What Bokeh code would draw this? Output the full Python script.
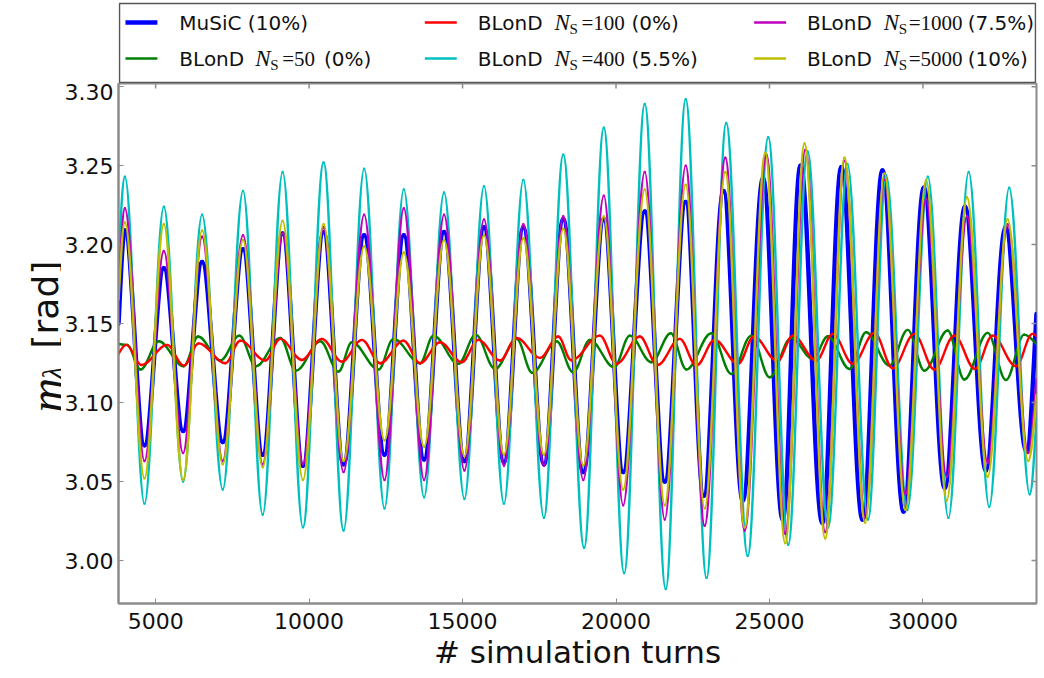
import numpy as np
from bokeh.plotting import figure
from bokeh.models import Range1d, FixedTicker, PrintfTickFormatter
from bokeh.layouts import column, row
from bokeh.embed import file_html
from bokeh.resources import INLINE
from bokeh.core.properties import value

# ---------------- data ----------------
x_ticks = [5000, 10000, 15000, 20000, 25000, 30000]
y_ticks = [3.00, 3.05, 3.10, 3.15, 3.20, 3.25, 3.30]
x_limits = [3790, 33700]
y_limits = [2.9728, 3.302]
edge_turns = [3790, 33700]   # where the axes cut the curves

# MuSiC (10%)
music_peak_turns = [3998, 5267, 6513, 7847, 9138, 10472, 11794, 13085, 14397, 15698, 16980, 18281,
                    19602, 20936, 22270, 23500, 24790, 26010, 27340, 28680, 30030, 31370, 32690]
music_trough_turns = [4636, 5895, 7186, 8488, 9799, 11123, 12457, 13746, 15060, 16349, 17650, 18932,
                      20233, 21587, 22858, 24130, 25430, 26720, 28030, 29370, 30710, 32050, 33370]
music_peaks = [3.209, 3.185, 3.189, 3.197, 3.207, 3.208, 3.206, 3.206, 3.208, 3.211, 3.211, 3.216,
               3.216, 3.221, 3.227, 3.234, 3.242, 3.250, 3.249, 3.247, 3.236, 3.224, 3.211]
music_troughs = [3.073, 3.082, 3.075, 3.067, 3.060, 3.061, 3.067, 3.064, 3.063, 3.062, 3.061, 3.056,
                 3.056, 3.050, 3.041, 3.038, 3.026, 3.024, 3.026, 3.031, 3.046, 3.057, 3.069]
music_edges = [3.150, 3.156]

# BLonD N_S = 400 (5.5%)
n400_peak_turns = [3998, 5267, 6513, 7847, 9138, 10472, 11794, 13085, 14397, 15698, 16980, 18281,
                   19602, 20936, 22270, 23590, 24960, 26240, 27540, 28800, 30160, 31490, 32810]
n400_trough_turns = [4636, 5895, 7186, 8488, 9799, 11123, 12457, 13746, 15060, 16349, 17650, 18960,
                     20265, 21620, 22950, 24290, 25610, 26910, 28210, 29490, 30830, 32160, 33480]
n400_peaks = [3.243, 3.224, 3.219, 3.234, 3.246, 3.252, 3.248, 3.235, 3.233, 3.237, 3.241, 3.257,
              3.274, 3.289, 3.292, 3.277, 3.268, 3.259, 3.251, 3.244, 3.243, 3.246, 3.236]
n400_troughs = [3.036, 3.050, 3.045, 3.029, 3.021, 3.019, 3.033, 3.040, 3.039, 3.036, 3.027, 3.008,
                2.992, 2.982, 2.989, 3.003, 3.010, 3.021, 3.026, 3.032, 3.027, 3.034, 3.042]
n400_edges = [3.190, 3.090]

# BLonD N_S = 1000 (7.5%)
n1000_peak_turns = [3998, 5267, 6513, 7847, 9138, 10472, 11794, 13085, 14397, 15698, 16980, 18281,
                    19602, 20936, 22270, 23562, 24900, 26170, 27444, 28745, 30102, 31436, 32760]
n1000_trough_turns = [4636, 5895, 7186, 8488, 9799, 11123, 12457, 13746, 15060, 16349, 17650, 18932,
                      20233, 21587, 22888, 24190, 25514, 26816, 28117, 29429, 30775, 32109, 33430]
n1000_peaks = [3.223, 3.196, 3.205, 3.206, 3.207, 3.211, 3.219, 3.223, 3.219, 3.216, 3.213, 3.218,
               3.231, 3.246, 3.250, 3.255, 3.257, 3.260, 3.253, 3.241, 3.229, 3.218, 3.213]
n1000_troughs = [3.063, 3.068, 3.063, 3.061, 3.061, 3.056, 3.051, 3.051, 3.057, 3.060, 3.060, 3.051,
                 3.035, 3.026, 3.022, 3.019, 3.017, 3.018, 3.027, 3.042, 3.053, 3.062, 3.068]
n1000_edges = [3.170, 3.115]

# BLonD N_S = 5000 (10%)
n5000_peak_turns = [3998, 5267, 6513, 7847, 9138, 10472, 11794, 13085, 14397, 15698, 16980, 18281,
                    19602, 20936, 22270, 23562, 24863, 26142, 27444, 28745, 30102, 31436, 32760]
n5000_trough_turns = [4636, 5895, 7186, 8488, 9799, 11123, 12457, 13746, 15060, 16349, 17650, 18932,
                      20233, 21587, 22888, 24190, 25514, 26816, 28117, 29429, 30775, 32109, 33430]
n5000_peaks = [3.214, 3.213, 3.209, 3.203, 3.215, 3.213, 3.199, 3.195, 3.203, 3.206, 3.204, 3.210,
               3.218, 3.235, 3.238, 3.246, 3.258, 3.264, 3.255, 3.245, 3.241, 3.230, 3.216]
n5000_troughs = [3.052, 3.051, 3.061, 3.059, 3.051, 3.063, 3.076, 3.072, 3.066, 3.067, 3.067, 3.060,
                 3.045, 3.035, 3.033, 3.021, 3.011, 3.014, 3.024, 3.032, 3.038, 3.053, 3.063]
n5000_edges = [3.165, 3.105]

# BLonD N_S = 100 (0%)  -- successive turning points
n100_turns = [3790, 4040, 4540, 5374, 5916, 6404, 7272, 7760, 8573, 9061, 9766, 10417, 11068, 11718,
              12315, 13074, 13616, 14267, 14972, 15514, 16219, 16761, 17521, 18117, 18540, 19473,
              20015, 20774, 21349, 22076, 22618, 23214, 23974, 24494, 25253, 25763, 26522, 27064,
              27715, 28420, 29016, 29721, 30372, 31023, 31695, 32270, 33029, 33571, 33700]
n100_vals = [3.1308, 3.1365, 3.1238, 3.1365, 3.1234, 3.1375, 3.1249, 3.1392, 3.1266, 3.1403, 3.1270,
             3.1403, 3.1259, 3.1397, 3.1249, 3.1392, 3.1249, 3.1382, 3.1255, 3.1397, 3.1266, 3.1409,
             3.1283, 3.1418, 3.1268, 3.1424, 3.1245, 3.1418, 3.1238, 3.1403, 3.1234, 3.1397, 3.1245,
             3.1418, 3.1262, 3.1424, 3.1266, 3.1435, 3.1245, 3.1441, 3.1217, 3.1435, 3.1209, 3.1424,
             3.1213, 3.1424, 3.1230, 3.1435, 3.1420]

# BLonD N_S = 50 (0%)  -- successive turning points
n50_turns = [3790, 4073, 4507, 5103, 5916, 6383, 7109, 7727, 8270, 9061, 9571, 10363, 10959, 11393,
             12261, 12749, 13616, 14050, 14864, 15427, 16057, 16761, 17271, 18063, 18605, 19147,
             19939, 20450, 21154, 21783, 22293, 23106, 23757, 24407, 25004, 25709, 26414, 26902,
             27607, 28149, 28908, 29504, 30047, 30806, 31348, 32107, 32704, 33300, 33700]
n50_vals = [3.1371, 3.1365, 3.1209, 3.1388, 3.1230, 3.1418, 3.1266, 3.1424, 3.1230, 3.1409, 3.1202,
            3.1388, 3.1196, 3.1382, 3.1209, 3.1403, 3.1249, 3.1424, 3.1245, 3.1430, 3.1213, 3.1403,
            3.1188, 3.1388, 3.1192, 3.1397, 3.1224, 3.1424, 3.1255, 3.1439, 3.1209, 3.1439, 3.1181,
            3.1424, 3.1160, 3.1409, 3.1276, 3.1420, 3.1213, 3.1445, 3.1234, 3.1460, 3.1202, 3.1456,
            3.1146, 3.1441, 3.1143, 3.1430, 3.1370]

series_labels = ["MuSiC (10%)", "BLonD N_S=50 (0%)", "BLonD N_S=100 (0%)",
                 "BLonD N_S=400 (5.5%)", "BLonD N_S=1000 (7.5%)", "BLonD N_S=5000 (10%)"]
series_colors = ["#0000ff", "#007f00", "#ff0000", "#00bfbf", "#bf00bf", "#bfbf00"]


# ---------------- helpers ----------------
def chain(pt, pv, tt, tv, edges):
    xs, ys = [edge_turns[0]], [edges[0]]
    for a, b, c, d in zip(pt, pv, tt, tv):
        xs += [a, c]
        ys += [b, d]
    xs.append(edge_turns[1]); ys.append(edges[1])
    return xs, ys


def bez(xs, ys, k=0.3642):
    """Smooth curve through successive turning points (horizontal tangents)."""
    xs = np.asarray(xs, float); ys = np.asarray(ys, float)
    assert len(xs) == len(ys)
    x0, x1, y0, y1 = xs[:-1], xs[1:], ys[:-1], ys[1:]
    dx = x1 - x0
    cy0 = y0.copy(); cy1 = y1.copy()
    cy0[0] = y0[0] + 0.5 * (y1[0] - y0[0])
    cy1[-1] = y1[-1] - 0.5 * (y1[-1] - y0[-1])
    return dict(x0=x0, y0=y0, x1=x1, y1=y1, cx0=x0 + k * dx, cy0=cy0, cx1=x1 - k * dx, cy1=cy1)


curves = [
    chain(music_peak_turns, music_peaks, music_trough_turns, music_troughs, music_edges),
    (n50_turns, n50_vals),
    (n100_turns, n100_vals),
    chain(n400_peak_turns, n400_peaks, n400_trough_turns, n400_troughs, n400_edges),
    chain(n1000_peak_turns, n1000_peaks, n1000_trough_turns, n1000_troughs, n1000_edges),
    chain(n5000_peak_turns, n5000_peaks, n5000_trough_turns, n5000_troughs, n5000_edges),
]
widths = [4.5, 2.4, 2.4, 2.4, 2.4, 2.4]

FONT = "DejaVu Sans"
SPINE = "#8c8c8c"
INK = "#111111"

# page layout (the Bokeh page has no body margin)
W, H = 1044, 678
YL = 61                     # strip holding the y-axis title
LEG_H = 83
FL, FR = 116, 1036          # frame left / right (page px)
FT, FB = 83, 603            # frame top / bottom (page px)

# ---------------- main figure ----------------
p = figure(width=W - YL, height=H - LEG_H,
           x_range=Range1d(*x_limits), y_range=Range1d(*y_limits),
           output_backend="svg", toolbar_location=None,
           min_border_left=FL - YL, min_border_right=W - FR,
           min_border_top=FT - LEG_H, min_border_bottom=H - FB,
           background_fill_color="white", border_fill_color="white")
p.grid.visible = False
p.outline_line_color = SPINE
p.outline_line_width = 2

for (xs, ys), c, w in zip(curves, series_colors, widths):
    p.bezier(source=bez(xs, ys), x0="x0", y0="y0", x1="x1", y1="y1",
             cx0="cx0", cy0="cy0", cx1="cx1", cy1="cy1",
             line_color=c, line_width=w, line_cap="round")

p.xaxis.ticker = FixedTicker(ticks=x_ticks)
p.yaxis.ticker = FixedTicker(ticks=y_ticks)
p.yaxis.formatter = PrintfTickFormatter(format="%.2f")
for ax in (p.xaxis[0], p.yaxis[0]):
    ax.major_tick_in = 5
    ax.major_tick_out = 0
    ax.minor_tick_line_color = None
    ax.axis_line_color = SPINE
    ax.axis_line_width = 2
    ax.major_tick_line_color = SPINE
    ax.major_label_text_font = FONT
    ax.major_label_text_font_size = "22px"
    ax.major_label_text_color = INK
p.xaxis.major_label_standoff = 9
p.yaxis.major_label_standoff = 5
p.xaxis.axis_label = "# simulation turns"
p.xaxis.axis_label_text_font = FONT
p.xaxis.axis_label_text_font_style = "normal"
p.xaxis.axis_label_text_font_size = "31px"
p.xaxis.axis_label_text_color = INK
p.xaxis.axis_label_standoff = 2

# inward tick marks on the top and right spines (5 px long)
dy5 = 5 * (y_limits[1] - y_limits[0]) / (FB - FT)
dx5 = 5 * (x_limits[1] - x_limits[0]) / (FR - FL)
p.segment(x0=x_ticks, x1=x_ticks, y0=[y_limits[1]] * len(x_ticks), y1=[y_limits[1] - dy5] * len(x_ticks),
          line_color=SPINE, line_width=1.5)
p.segment(x0=[x_limits[1]] * len(y_ticks), x1=[x_limits[1] - dx5] * len(y_ticks), y0=y_ticks, y1=y_ticks,
          line_color=SPINE, line_width=1.5)

# ---------------- legend strip (coords = page pixels, y downward) ----------------
leg = figure(width=W - YL, height=LEG_H, x_range=Range1d(FL, FR), y_range=Range1d(LEG_H, 0),
             output_backend="svg", toolbar_location=None, x_axis_type=None, y_axis_type=None,
             min_border_left=FL - YL, min_border_right=W - FR, min_border_top=0, min_border_bottom=0,
             outline_line_color=None, background_fill_color="white", border_fill_color="white")
leg.quad(left=[FL + 1], right=[FR - 1], top=[3], bottom=[82], fill_color="white",
         line_color="#555555", line_width=1.5)

r1, r2 = 22, 58
cols = [123, 423, 753]
tx = [177, 476, 806]
slot_x = [cols[0], cols[0], cols[1], cols[1], cols[2], cols[2]]
slot_y = [r1, r2, r1, r2, r1, r2]
leg.segment(x0=slot_x, y0=slot_y, x1=[x + 32 for x in slot_x], y1=slot_y,
            line_color=series_colors, line_width=widths)

sans_txt = ["MuSiC (10%)", "BLonD", "BLonD", "BLonD", "BLonD", "BLonD",
            "(0%)", "(0%)", "(5.5%)", "(7.5%)", "(10%)"]
sans_x = [tx[0], tx[0], tx[1], tx[1], tx[2], tx[2], 322, 630, 630, 967, 967]
sans_y = [r1, r2, r1, r2, r1, r2, r2, r1, r2, r1, r2]
leg.text(x=sans_x, y=sans_y, text=sans_txt, text_font=value(FONT), text_font_size="20px",
         text_baseline="middle", text_align="left", text_color=INK)

n_x = [253, 553, 553, 883, 883]
n_y = [r2, r1, r2, r1, r2]
leg.text(x=n_x, y=n_y, text=["N"] * 5, text_font=value("Liberation Serif"), text_font_style="italic",
         text_font_size="23px", text_baseline="middle", text_align="left", text_color=INK)
leg.text(x=[x + 15 for x in n_x], y=[y + 6 for y in n_y], text=["S"] * 5,
         text_font=value("Liberation Serif"), text_font_size="15px", text_baseline="middle",
         text_align="left", text_color=INK)
leg.text(x=[280, 580, 580, 908, 908], y=n_y, text=["=50", "=100", "=400", "=1000", "=5000"],
         text_font=value("Liberation Serif"), text_font_size="21px", text_baseline="middle",
         text_align="left", text_color=INK)

# ---------------- y-axis title strip (coords = page pixels, y upward) ----------------
ylab = figure(width=YL, height=H, x_range=Range1d(0, YL), y_range=Range1d(0, H),
              output_backend="svg", toolbar_location=None, x_axis_type=None, y_axis_type=None,
              min_border=0, outline_line_color=None, background_fill_color="white",
              border_fill_color="white")
ylab.text(x=[46], y=[H - 412], text=["m"], angle=np.pi / 2, text_align="left",
          text_baseline="alphabetic", text_font=value("Liberation Serif"), text_font_style="italic",
          text_font_size="48px", text_color=INK)
ylab.text(x=[52], y=[H - 379], text=["λ"], angle=np.pi / 2, text_align="left",
          text_baseline="alphabetic", text_font=value("Liberation Serif"), text_font_style="italic",
          text_font_size="30px", text_color=INK)
ylab.text(x=[45], y=[H - 348], text=["[rad]"], angle=np.pi / 2, text_align="left",
          text_baseline="alphabetic", text_font=value(FONT), text_font_size="36px", text_color=INK)

layout = row(ylab, column(leg, p, spacing=0), spacing=0)
open("out.html", "w").write(file_html(layout, INLINE))
